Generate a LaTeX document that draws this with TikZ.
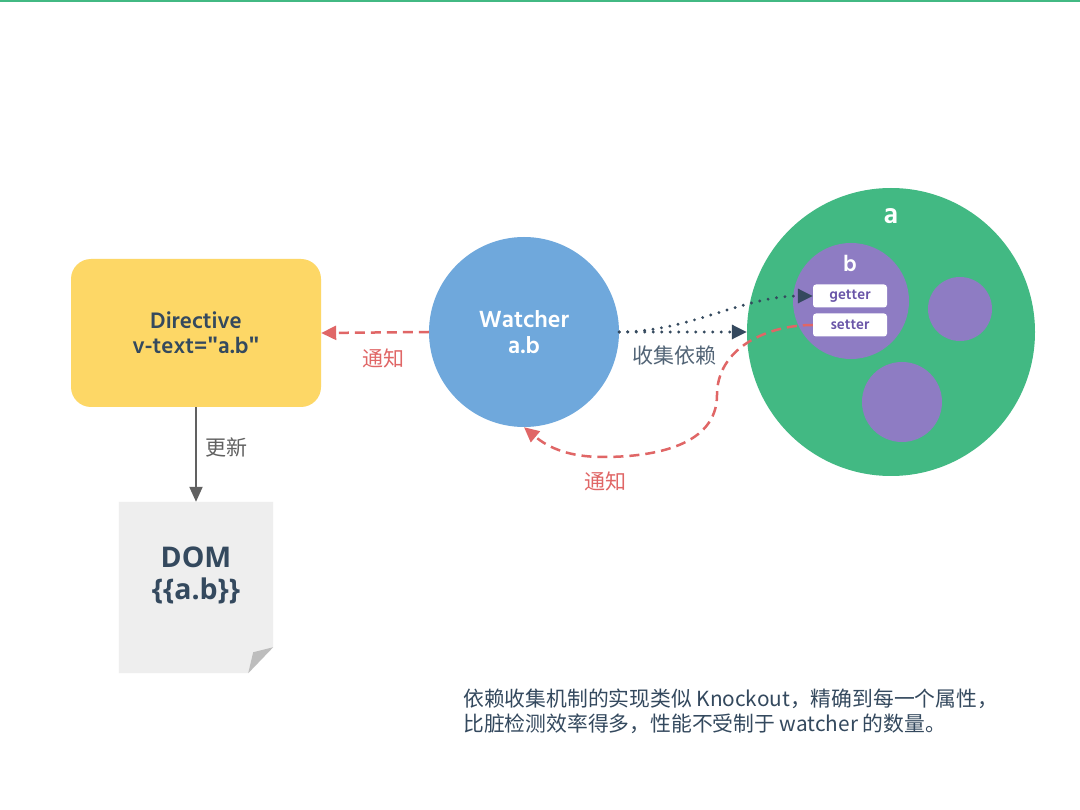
\documentclass[tikz,border=0pt]{standalone}
\usepackage{fontspec}
\setmainfont{Hind Madurai}
\newfontfamily\cjk{Noto Sans CJK SC}
\newfontfamily\domfont{Open Sans}
\usetikzlibrary{arrows.meta}

\definecolor{vuegreen}{HTML}{42B983}
\definecolor{dirfill}{HTML}{FDD766}
\definecolor{watchblue}{HTML}{6FA8DC}
\definecolor{propurple}{HTML}{8E7CC3}
\definecolor{notifyred}{HTML}{E06666}
\definecolor{inkdark}{HTML}{34495E}
\definecolor{accessor}{HTML}{6A55A8}
\definecolor{updategray}{HTML}{616161}
\definecolor{pagefill}{HTML}{EEEEEE}
\definecolor{foldgray}{HTML}{BDBDBD}

\newcommand{\sq}{{\domfont"}}

\tikzset{
  dirbox/.style={rectangle, rounded corners=20pt, fill=dirfill, minimum width=250pt,
    minimum height=148pt, align=center, text=inkdark, font=\fontsize{23}{25}\selectfont\bfseries},
  blob/.style={circle, inner sep=0pt},
  accbox/.style={rectangle, rounded corners=3pt, fill=white, minimum width=74pt,
    minimum height=23pt, inner sep=0pt, text=accessor, font=\fontsize{15}{15}\selectfont\bfseries},
  notify/.style={notifyred, line width=2.5pt, dash pattern=on 10pt off 6pt,
    -{Triangle[length=15pt,width=14pt]}},
  collect/.style={inkdark, line width=3.2pt, line cap=round, dash pattern=on 0pt off 8.5pt,
    -{Triangle[length=15pt,width=14pt,line cap=butt]}},
  update/.style={updategray, line width=2pt, -{Triangle[length=15pt,width=13pt]}},
  redlabel/.style={text=notifyred, font=\cjk\fontsize{21}{21}\selectfont},
  graylabel/.style={text=inkdark!85, font=\cjk\fontsize{21}{21}\selectfont},
}

\begin{document}
\begin{tikzpicture}[x=1pt, y=-1pt]
  \useasboundingbox (0,0) rectangle (1080,810);
  \fill[white] (0,0) rectangle (1080,810);
  % header rule
  \fill[vuegreen] (0,0) rectangle (1080,2.5);

  % directive
  \node[dirbox] (directive) at (196,333) {Directive\\v-text=\sq a.b\sq};

  % watcher
  \node[blob, fill=watchblue, minimum size=190pt, align=center, text=white,
    font=\fontsize{24}{26}\selectfont\bfseries] (watcher) at (524,332) {Watcher\\a.b};

  % reactive object a with its properties
  \node[blob, fill=vuegreen, minimum size=288pt] (objA) at (891,332) {};
  \node[text=white, font=\fontsize{29}{29}\selectfont\bfseries] (labelA) at (891,216) {a};
  \node[blob, fill=propurple, minimum size=116pt] (propB) at (851,301) {};
  \node[text=white, font=\fontsize{23}{23}\selectfont\bfseries] (labelB) at (850,263) {b};
  \node[accbox] (getter) at (850,296) {getter};
  \node[accbox] (setter) at (850,325) {setter};
  \node[blob, fill=propurple, minimum size=64pt] (propC) at (960,309) {};
  \node[blob, fill=propurple, minimum size=80pt] (propD) at (902,402) {};

  % DOM page with folded corner
  \node[rectangle, minimum width=154pt, minimum height=171pt, inner sep=0pt] (dom) at (196,587.5) {};
  \fill[pagefill] (dom.north west) -- (dom.north east) -- ([yshift=26pt]dom.south east)
    -- ([xshift=-25pt]dom.south east) -- (dom.south west) -- cycle;
  \fill[foldgray] ([yshift=26pt]dom.south east) -- ([xshift=-25pt]dom.south east)
    -- ([xshift=-20pt,yshift=21pt]dom.south east) -- cycle;
  \node[align=center, text=inkdark, font=\domfont\fontsize{28.5}{32}\selectfont\bfseries]
    (domtext) at (196,575) {DOM\\\{\{a.b\}\}};

  % connectors
  \draw[notify] (watcher.west) -- (directive.east);
  \node[redlabel] (notifyA) at (383,358) {通知};

  \draw[collect] (watcher.east) -- (objA.west);
  \draw[collect] (watcher.east) to[out=0, in=180, looseness=0.9] (getter.west);
  \node[graylabel] (collectlbl) at (674,356) {收集依赖};

  \coordinate (bendA) at (717,395);
  \coordinate (bendB) at (603,457);
  \draw[notify] (setter.west) to[out=180, in=90] (bendA) to[out=-90, in=0] (bendB)
    to[out=180, in=-40] (watcher.south);
  \node[redlabel] (notifyB) at (605,481) {通知};

  \draw[update] (directive.south) -- (dom.north);
  \node[graylabel, text=updategray] (updatelbl) at (226,447) {更新};

  % note
  \node[anchor=north west, align=left, inner sep=0pt, text=inkdark, font=\cjk\fontsize{20.8}{25}\selectfont]
    (note) at (463,689) {依赖收集机制的实现类似 Knockout，精确到每一个属性，\\比脏检测效率得多，性能不受制于 watcher 的数量。};
\end{tikzpicture}
\end{document}
